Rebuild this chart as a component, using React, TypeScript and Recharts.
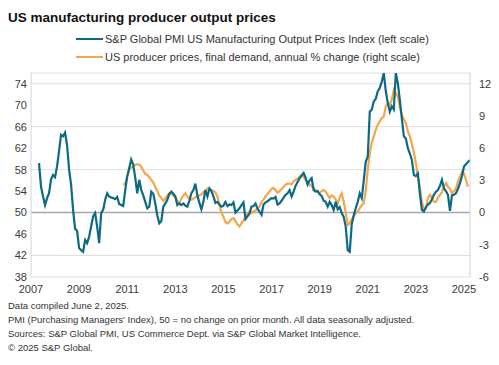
import React from "react";
import {
  LineChart,
  Line,
  XAxis,
  YAxis,
  CartesianGrid,
  ReferenceLine,
} from "recharts";

// month index: 0 = Jan 2007
const pmiStart = 4; // May 2007
const pmiOutputPrices = [
  59.2, 54.8, 53.0, 51.4, 52.7, 53.6, 56.2, 57.0, 56.6, 58.6, 61.5, 64.5,
  64.2, 64.9, 62.5, 58.0, 55.2, 50.5, 47.0, 46.6, 43.4, 43.0, 42.7, 44.9,
  44.3, 45.5, 47.4, 49.3, 49.9, 47.4, 44.3, 49.9, 50.5, 52.4, 53.6, 53.0,
  52.8, 52.7, 52.5, 52.9, 51.6, 51.4, 51.2, 54.2, 56.7, 58.3, 59.9, 58.9,
  56.5, 53.6, 56.1, 54.2, 53.2, 52.0, 50.8, 51.1, 53.9, 53.5, 51.7, 49.5,
  48.0, 48.4, 51.1, 51.7, 52.4, 53.5, 53.9, 53.5, 53.0, 51.4, 51.7, 51.4,
  51.7, 51.3, 51.1, 52.2, 53.6, 54.2, 55.4, 53.2, 51.8, 50.6, 52.0, 54.2,
  53.0, 54.5, 54.0, 53.0, 51.8, 52.0, 51.5, 51.1, 51.3, 52.0, 51.2, 51.5,
  51.4, 51.9, 50.0, 50.4, 50.8, 51.4, 51.9, 48.8, 49.3, 49.8, 51.1, 51.2,
  51.7, 50.7, 50.2, 49.6, 51.5, 51.9, 52.1, 52.4, 52.7, 52.6, 52.9, 51.5,
  51.7, 52.2, 52.8, 53.3, 53.6, 54.2, 53.0, 53.9, 55.0, 55.7, 56.4, 56.9,
  57.4, 56.5, 55.2, 56.0, 56.4, 54.2, 53.9, 54.0, 53.4, 53.1, 52.2, 52.0,
  51.1, 52.0, 51.4, 50.5, 52.0, 50.6, 51.0, 49.9, 49.2, 47.4, 43.0, 42.7,
  47.8, 49.5, 50.8, 52.0, 53.6, 52.7, 56.0, 59.5, 60.4, 68.8, 69.2, 70.7,
  71.2, 72.6, 73.2, 74.4, 76.0, 72.6, 70.4, 68.8, 69.8, 69.2, 76.0, 74.1,
  71.0, 67.5, 64.2, 63.8, 62.0, 61.0, 59.8, 57.0, 56.8, 57.3, 53.5, 50.5,
  50.2, 51.0, 51.5, 51.8, 52.5, 53.3, 53.9, 54.2, 55.0, 56.1, 54.5, 54.0,
  53.3, 50.3, 53.2, 53.3, 53.6, 54.4, 55.5, 56.8, 58.6, 59.0, 59.4, 59.8,
];

const ppiStart = 46; // Nov 2010
const ppiFinalDemand = [
  2.6, 2.7, 3.4, 4.0, 4.2, 4.3, 4.45, 4.5, 4.45, 4.3, 3.9, 3.6,
  3.5, 3.3, 3.05, 2.8, 2.4, 2.0, 1.6, 1.35, 1.1, 1.3, 1.6, 1.8,
  1.7, 1.6, 1.4, 1.1, 0.85, 1.3, 1.6, 1.8, 1.5, 1.3, 1.2, 1.3,
  1.4, 1.5, 1.6, 1.7, 1.9, 2.0, 2.25, 2.2, 2.1, 2.0, 1.9, 1.5,
  0.7, 0.0, -0.4, -0.9, -1.0, -0.85, -0.6, -0.5, -0.8, -1.1, -1.3, -1.0,
  -0.7, -0.4, -0.1, 0.1, -0.05, 0.1, 0.2, 0.4, 0.55, 1.0, 1.2, 1.5,
  1.75, 1.95, 2.2, 2.3, 2.1, 1.85, 2.0, 2.2, 2.4, 2.6, 2.7, 2.7,
  2.65, 2.9, 3.05, 3.15, 3.35, 3.5, 3.35, 3.05, 2.75, 2.6, 2.45, 2.3,
  2.1, 1.95, 1.8, 2.0, 2.1, 1.95, 1.65, 1.35, 1.6, 1.5, 1.2, 0.85,
  1.4, 1.8, 1.0, 0.0, -1.15, -1.0, -0.6, -0.35, -0.05, 0.1, 0.4, 0.7,
  0.85, 2.1, 4.0, 5.5, 6.5, 7.1, 7.7, 8.2, 8.5, 8.8, 8.95, 9.9,
  10.2, 10.05, 10.5, 11.45, 11.1, 10.8, 9.8, 9.1, 8.7, 8.35, 7.55, 7.1,
  6.4, 5.6, 4.6, 3.35, 2.4, 1.0, 0.3, 0.4, 1.3, 1.65, 1.4, 1.0,
  1.0, 1.4, 1.65, 1.9, 2.4, 2.75, 2.4, 2.2, 1.8, 2.0, 2.25, 2.9,
  3.35, 3.8, 3.65, 3.05, 2.4,
];

const yearTicks = [2007, 2009, 2011, 2013, 2015, 2017, 2019, 2021, 2023, 2025];
const leftTicks = [38, 42, 46, 50, 54, 58, 62, 66, 70, 74];
const rightTicks = [-6, -3, 0, 3, 6, 9, 12];

const footnotes = [
  "Data compiled June 2, 2025.",
  "PMI (Purchasing Managers' Index), 50 = no change on prior month. All data seasonally adjusted.",
  "Sources: S&P Global PMI, US Commerce Dept. via S&P Global Market Intelligence.",
  "\u00a9 2025 S&P Global.",
];

const BLUE = "#0c6a86";
const ORANGE = "#f4a64a";
const FONT = "'Liberation Sans', Arial, sans-serif";

const lastMonth = pmiStart + pmiOutputPrices.length - 1;
const data = [];
for (let m = 0; m <= lastMonth; m++) {
  const p = pmiOutputPrices[m - pmiStart];
  const q = ppiFinalDemand[m - ppiStart];
  data.push({ m, pmi: p === undefined ? null : p, ppi: q === undefined ? null : q });
}

const legendItems = [
  { color: BLUE, label: "S&P Global PMI US Manufacturing Output Prices Index (left scale)" },
  { color: ORANGE, label: "US producer prices, final demand, annual % change (right scale)" },
];

const tickStyle = { fontSize: 11, fill: "#3a3a3a", fontFamily: FONT };

export default function App() {
  return (
    <div
      style={{
        position: "absolute",
        left: 0,
        top: 0,
        width: 499,
        height: 365,
        background: "#fff",
        fontFamily: FONT,
        color: "#222",
        overflow: "hidden",
      }}
    >
      <div
        style={{
          position: "absolute",
          left: 8,
          top: 10,
          fontSize: 13.5,
          fontWeight: "bold",
          color: "#111",
        }}
      >
        US manufacturing producer output prices
      </div>
      {legendItems.map((it, i) => (
        <div
          key={it.label}
          style={{
            position: "absolute",
            left: 76,
            top: 33 + i * 18,
            fontSize: 11,
            color: "#333",
            display: "flex",
            alignItems: "center",
            whiteSpace: "nowrap",
          }}
        >
          <span
            style={{
              display: "inline-block",
              width: 27,
              height: 2.5,
              background: it.color,
              marginRight: 2,
            }}
          />
          {it.label}
        </div>
      ))}
      <div style={{ position: "absolute", left: 0, top: 0 }}>
        <LineChart
          width={499}
          height={300}
          data={data}
          margin={{ top: 73, right: 0, bottom: 3, left: 0 }}
        >
          <CartesianGrid yAxisId="left" vertical={false} stroke="#dedede" />
          <XAxis
            dataKey="m"
            type="number"
            domain={[0, 219]}
            ticks={yearTicks.map((y) => (y - 2007) * 12)}
            tickFormatter={(v) => String(2007 + v / 12)}
            axisLine={false}
            tickLine={false}
            height={20}
            tick={tickStyle}
          />
          <YAxis
            yAxisId="left"
            orientation="left"
            domain={[38, 76]}
            ticks={leftTicks}
            allowDataOverflow
            width={31}
            tickSize={0}
            tickMargin={4}
            axisLine={{ stroke: "#d4d4d4" }}
            tickLine={false}
            tick={tickStyle}
          />
          <YAxis
            yAxisId="right"
            orientation="right"
            domain={[-6, 13]}
            ticks={rightTicks}
            allowDataOverflow
            width={29}
            tickSize={0}
            tickMargin={9}
            axisLine={{ stroke: "#d4d4d4" }}
            tickLine={false}
            tick={{ ...tickStyle, textAnchor: "start" }}
          />
          <ReferenceLine yAxisId="left" y={50} stroke="#a8a8a8" strokeWidth={1.5} />
          <Line
            yAxisId="right"
            dataKey="ppi"
            stroke={ORANGE}
            strokeWidth={2.2}
            dot={false}
            isAnimationActive={false}
          />
          <Line
            yAxisId="left"
            dataKey="pmi"
            stroke={BLUE}
            strokeWidth={2.2}
            dot={false}
            isAnimationActive={false}
          />
        </LineChart>
      </div>
      {footnotes.map((t, i) => (
        <div
          key={i}
          style={{
            position: "absolute",
            left: 8,
            top: 300 + i * 14,
            fontSize: 9.5,
            color: "#333",
            whiteSpace: "nowrap",
          }}
        >
          {t}
        </div>
      ))}
    </div>
  );
}
